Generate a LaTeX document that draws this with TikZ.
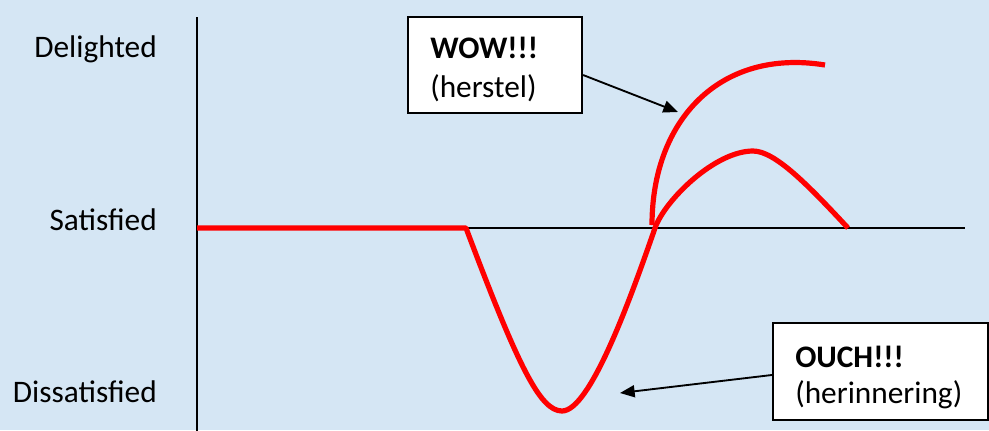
\documentclass[tikz,border=0pt]{standalone}
\usepackage{fontspec}
\setmainfont{Carlito}
\usetikzlibrary{arrows.meta}
\definecolor{bgblue}{RGB}{213,230,244}
\definecolor{curvered}{RGB}{255,0,0}
\begin{document}
\begin{tikzpicture}[x=0.75pt,y=-0.75pt,
  every node/.style={font=\fontsize{23.5}{28}\selectfont, inner sep=0pt},
  axis/.style={line width=1.6pt, black},
  curve/.style={line width=3.9pt, curvered, line join=round},
  callbox/.style={draw=black, line width=1.6pt, fill=white},
  callarrow/.style={line width=1.4pt, -{Triangle[length=11pt,width=9pt]}},
  lvl/.style={anchor=base east},
  boxtext/.style={anchor=base west}]
\useasboundingbox (0,0) rectangle (989,430);
\fill[bgblue] (0,0) rectangle (989,430);

% axes
\coordinate (ytop) at (197,17);
\coordinate (ybot) at (197,432);
\coordinate (xleft) at (197,228);
\coordinate (xright) at (965,228);
\draw[axis] (ytop) -- (ybot);
\draw[axis] (xleft) -- (xright);

% level labels
\node[lvl] (delighted) at (157,57) {Delighted};
\node[lvl] (satisfied) at (157,230) {Satisfied};
\node[lvl] (dissatisfied) at (157,402) {Dissatisfied};

% red curves
\coordinate (c0) at (197,228);
\coordinate (c1) at (466,228);
\coordinate (cmin) at (562,411);
\coordinate (ccross) at (655,228);
\coordinate (cpeak) at (753,151);
\coordinate (cend) at (848,228);
\draw[curve] (c0) -- (c1)
  .. controls (518,366) and (540,411) .. (cmin)
  .. controls (590,411) and (630,300) .. (ccross)
  .. controls (665,200) and (715,151) .. (cpeak)
  .. controls (775,151) and (808,185) .. (cend);
\coordinate (w0) at (652,225);
\coordinate (w1) at (825,65);
\draw[curve] (w0) .. controls (652,120) and (720,48) .. (w1);

% WOW callout
\node[callbox, minimum width=130.5pt, minimum height=72pt] (wowbox) at (495,65) {};
\node[boxtext] (wowtitle) at (430,58) {\textbf{WOW!!!}};
\node[boxtext] (wowsub) at (430,97) {(herstel)};
\coordinate (wowtip) at (678,112);
\draw[callarrow] ([yshift=-7.5pt]wowbox.east) -- (wowtip);

% OUCH callout
\node[callbox, minimum width=161pt, minimum height=72.5pt] (ouchbox) at (880.5,371.5) {};
\node[boxtext] (ouchtitle) at (795,367) {\textbf{OUCH!!!}};
\node[boxtext] (ouchsub) at (795,403) {(herinnering)};
\coordinate (ouchtip) at (620,393);
\draw[callarrow] ([yshift=-2.6pt]ouchbox.west) -- (ouchtip);
\end{tikzpicture}
\end{document}
